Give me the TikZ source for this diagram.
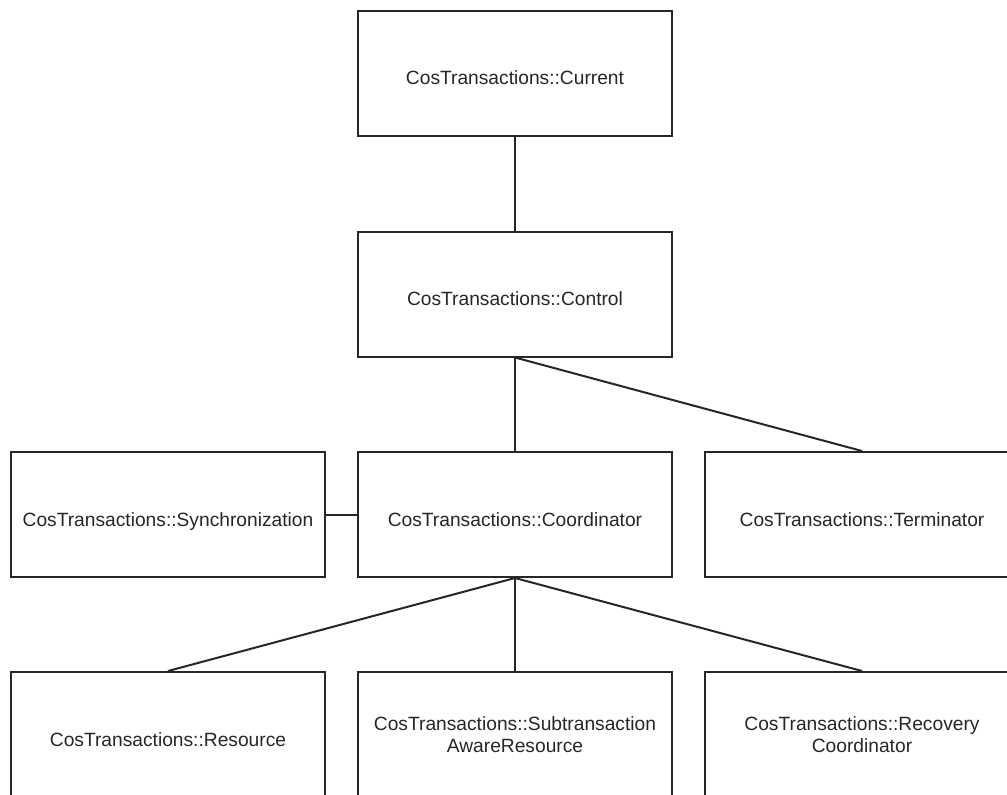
\documentclass[tikz,border=0pt]{standalone}
\usepackage{fontspec}
\setmainfont{Liberation Sans}
\begin{document}
\begin{tikzpicture}[x=1pt,y=-1pt,
  cls/.style={draw=black!85,line width=2pt,rectangle,minimum width=314pt,minimum height=125pt,
    inner sep=0pt,align=center,font=\fontsize{19.2}{22}\selectfont,text=black!85},
  oneline/.style={text height=23pt,text depth=0pt},
  twoline/.style={text height=35pt,text depth=0pt},
  link/.style={draw=black!85,line width=2pt}]
\useasboundingbox (0,0) rectangle (1007,795);
\clip (0,0) rectangle (1007,795);
% top chain
\node[cls,oneline] (current) at (515,73) {CosTransactions::Current};
\node[cls,oneline] (control) at (515,294) {CosTransactions::Control};
% middle row
\node[cls,oneline] (sync) at (168,514.5) {CosTransactions::Synchronization};
\node[cls,oneline] (coord) at (515,514.5) {CosTransactions::Coordinator};
\node[cls,oneline] (term) at (862,514.5) {CosTransactions::Terminator};
% bottom row
\node[cls,oneline] (res) at (168,734.5) {CosTransactions::Resource};
\node[cls,twoline] (subres) at (515,734.5) {CosTransactions::Subtransaction\\AwareResource};
\node[cls,twoline] (recov) at (862,734.5) {CosTransactions::Recovery\\Coordinator};
% connectors
\draw[link] (current.south) -- (control.north);
\draw[link] (control.south) -- (coord.north);
\draw[link] (control.south) -- (term.north);
\draw[link] (sync.east) -- (coord.west);
\draw[link] (coord.south) -- (res.north);
\draw[link] (coord.south) -- (subres.north);
\draw[link] (coord.south) -- (recov.north);
\end{tikzpicture}
\end{document}
